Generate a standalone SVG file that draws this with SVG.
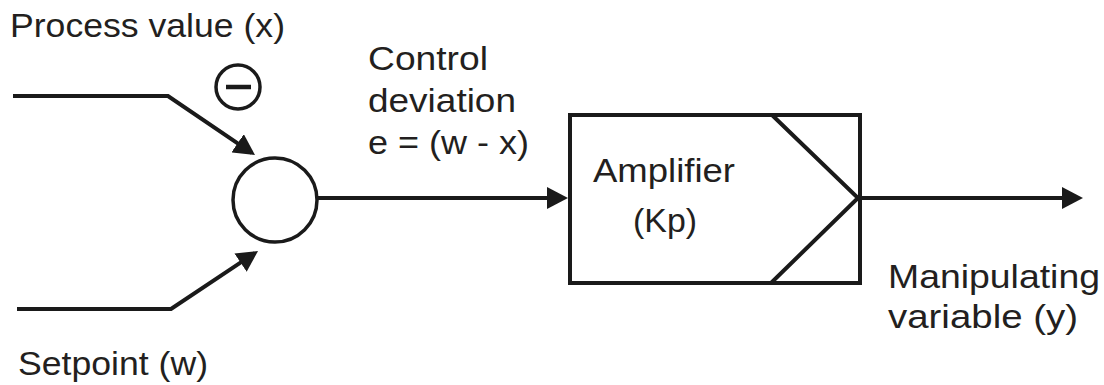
<svg xmlns="http://www.w3.org/2000/svg" width="1104" height="385" viewBox="0 0 1104 385">
  <style>
    .lbl { font-family: "Liberation Sans", Arial, sans-serif; font-size: 33px; fill: #231f20; }
    .ln { fill: none; stroke: #1a1a1a; stroke-width: 4; stroke-linejoin: miter; }
    .shape { fill: #ffffff; stroke: #1a1a1a; stroke-width: 3.5; }
  </style>
  <defs>
    <marker id="arrow" markerUnits="userSpaceOnUse" markerWidth="22" markerHeight="22" refX="17" refY="11" orient="auto">
      <path d="M0,0 L21,11 L0,22 Z" fill="#1a1a1a"/>
    </marker>
  </defs>
  <rect width="1104" height="385" fill="#ffffff"/>

  <g id="connectors">
    <path class="ln" d="M13,96 L168,96 L251.7,152.8" marker-end="url(#arrow)"/>
    <path class="ln" d="M17,309 L171,309 L254.7,253.2" marker-end="url(#arrow)"/>
    <path class="ln" d="M318,198 L564,198" marker-end="url(#arrow)"/>
    <path class="ln" d="M860,198 L1079,198" marker-end="url(#arrow)"/>
  </g>

  <g id="summing-junction">
    <circle class="shape" cx="275" cy="200" r="42"/>
  </g>

  <g id="minus-sign">
    <circle class="shape" cx="238" cy="87" r="22"/>
    <line x1="226" y1="87" x2="251" y2="87" stroke="#1a1a1a" stroke-width="4.5"/>
  </g>

  <g id="amplifier">
    <rect x="570" y="115" width="290" height="168" fill="#ffffff" stroke="#1a1a1a" stroke-width="4"/>
    <polyline class="ln" points="772,115 858,198 771,283"/>
    <text class="lbl" x="593" y="182" textLength="142" lengthAdjust="spacingAndGlyphs">Amplifier</text>
    <text class="lbl" x="633" y="232" textLength="64" lengthAdjust="spacingAndGlyphs">(Kp)</text>
  </g>

  <g id="process-value">
    <text class="lbl" x="10" y="37" textLength="275" lengthAdjust="spacingAndGlyphs">Process value (x)</text>
  </g>

  <g id="setpoint">
    <text class="lbl" x="18" y="375" textLength="190" lengthAdjust="spacingAndGlyphs">Setpoint (w)</text>
  </g>

  <g id="control-deviation">
    <text class="lbl" x="368" y="70" textLength="120" lengthAdjust="spacingAndGlyphs">Control</text>
    <text class="lbl" x="368" y="112" textLength="148" lengthAdjust="spacingAndGlyphs">deviation</text>
    <text class="lbl" x="368" y="154" textLength="161" lengthAdjust="spacingAndGlyphs">e = (w - x)</text>
  </g>

  <g id="manipulating-variable">
    <text class="lbl" x="888" y="288" textLength="212" lengthAdjust="spacingAndGlyphs">Manipulating</text>
    <text class="lbl" x="888" y="328" textLength="190" lengthAdjust="spacingAndGlyphs">variable (y)</text>
  </g>
</svg>
